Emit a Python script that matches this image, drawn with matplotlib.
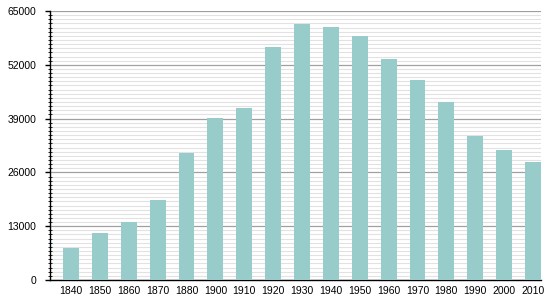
import numpy as np
import matplotlib.pyplot as plt
from matplotlib.ticker import MultipleLocator

plt.rcParams['font.family'] = ['Liberation Sans', 'DejaVu Sans']

years = ['1840', '1850', '1860', '1870', '1880', '1900', '1910', '1920', '1930',
         '1940', '1950', '1960', '1970', '1980', '1990', '2000', '2010']
population = [7800, 11400, 14100, 19300, 30700, 39100, 41600, 56300, 61900,
              61100, 59000, 53500, 48300, 43000, 34900, 31400, 28500]

fig = plt.figure(figsize=(5.5, 3.0), dpi=100)
ax = fig.add_axes([50/550, 20/300, 491/550, 269/300])

x = np.arange(len(years))
ax.bar(x, population, width=0.55, color='#98cccb', zorder=3)

ax.set_xlim(-0.73, len(years) - 1 + 0.28)
ax.set_ylim(0, 65000)
ax.set_xticks(x)
ax.set_xticklabels(years)
ax.yaxis.set_major_locator(MultipleLocator(13000))
ax.yaxis.set_minor_locator(MultipleLocator(1000))

# grid lines
ax.grid(which='major', axis='y', color='#a0a0a0', linewidth=0.9, zorder=1)
ax.grid(which='minor', axis='y', color='#e2e2e2', linewidth=0.8, zorder=0)

for s in ['top', 'right']:
    ax.spines[s].set_visible(False)
ax.spines['left'].set_linewidth(1.0)
ax.spines['bottom'].set_linewidth(1.0)

ax.tick_params(axis='x', length=0, pad=4, labelsize=7.5)
ax.tick_params(axis='y', which='major', direction='out', length=3.5, width=1, pad=6.5, labelsize=7.5)
ax.tick_params(axis='y', which='minor', direction='inout', length=2.5, width=0.6)

fig.savefig('out.png', dpi=100)
